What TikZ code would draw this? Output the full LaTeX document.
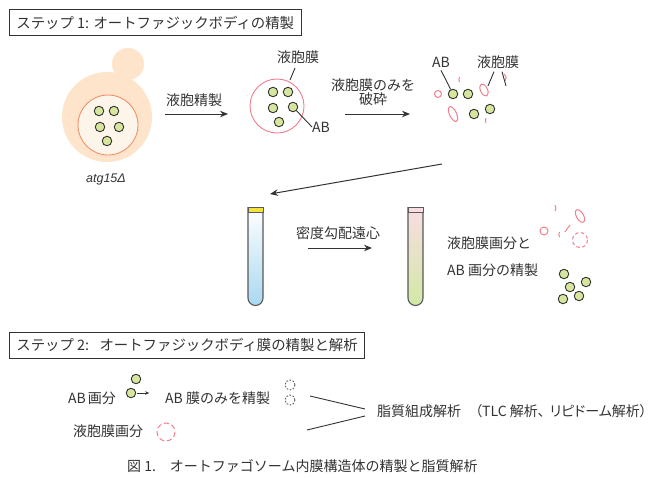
\documentclass[tikz,border=0pt]{standalone}
\usepackage{fontspec}
\setmainfont{Noto Sans CJK JP}
\newfontfamily\paltfont[RawFeature=+palt]{Noto Sans CJK JP}
\newfontfamily\latinfont{Liberation Sans}
\usetikzlibrary{arrows.meta,shapes.geometric}

\definecolor{ink}{HTML}{333333}
\definecolor{cellfill}{HTML}{FDE4CB}
\definecolor{vacfill}{HTML}{FEF5EA}
\definecolor{vacline}{HTML}{F0906C}
\definecolor{abfill}{HTML}{D6E69C}
\definecolor{pinkline}{HTML}{F27F90}
\definecolor{capyellow}{HTML}{F2E33C}
\definecolor{cappink}{HTML}{FADCE3}
\definecolor{tubeblue}{HTML}{A9D8F0}
\definecolor{tubepink}{HTML}{F9DDE4}
\definecolor{tubegreen}{HTML}{D2E8A6}

\tikzset{
  ab/.style={circle, draw=ink, fill=abfill, line width=0.9pt, minimum size=9.5pt, inner sep=0pt},
  lbl/.style={font=\fontsize{14}{14.5}\selectfont, text=ink, inner sep=0pt},
  small/.style={font=\fontsize{14}{16}\selectfont, text=ink, inner sep=0pt},
  titlebox/.style={draw=ink, line width=0.8pt, font=\fontsize{14.4}{17}\selectfont, text=ink,
    inner xsep=7pt, minimum height=26pt, anchor=west},
  arr/.style={-{Stealth[length=8pt,width=6.5pt]}, draw=ink, line width=1pt},
  leader/.style={draw=ink, line width=0.9pt},
  frag/.style={draw=pinkline, line width=1pt},
  tube/.style={draw=black!65, line width=1.1pt},
}

\begin{document}
\begin{tikzpicture}[x=1pt,y=-1pt]
\useasboundingbox[fill=white] (0,0) rectangle (658,477);

% ---------- step 1 ----------
\node[titlebox] (step1) at (9,22.5) {ステップ 1: オートファジックボディの精製};

% yeast cell with bud and vacuole
\fill[cellfill] (128,64) circle (16);
\fill[cellfill] (107,117) circle (45);
\filldraw[fill=vacfill, draw=vacline, line width=0.9pt] (108,125) circle (30);
\node[ab] (c1) at (99,111) {};
\node[ab] (c2) at (114,111) {};
\node[ab] (c3) at (100,127) {};
\node[ab] (c4) at (119,127) {};
\node[ab] (c5) at (107,141) {};
\node[font=\latinfont\itshape\fontsize{12.5}{14}\selectfont, text=ink, inner sep=0pt] (strain) at (106,179) {atg15Δ};

% vacuole isolation
\coordinate (a1s) at (165,114);
\coordinate (a1e) at (228,114);
\draw[arr] (a1s) -- (a1e);
\node[lbl] (a1lbl) at (194,100) {液胞精製};

% isolated vacuole
\draw[draw=pinkline, line width=0.9pt, fill=white] (277,106) circle (27) coordinate (vac);
\node[ab] (v1) at (273,92) {};
\node[ab] (v2) at (288,92) {};
\node[ab] (v3) at (273,108) {};
\node[ab] (v4) at (293,107) {};
\node[ab] (v5) at (279,122) {};
\node[lbl] (vmem) at (298,57) {液胞膜};
\coordinate (vmemtip) at (290,80);
\draw[leader] (295,68) -- (vmemtip);
\node[lbl, anchor=west] (vab) at (312,127) {AB};
\draw[leader] (v4) -- (vab.west);

% disrupting the vacuolar membrane
\coordinate (a2s) at (345,114);
\coordinate (a2e) at (410,114);
\draw[arr] (a2s) -- (a2e);
\node[lbl, align=center] (a2lbl) at (373,92) {液胞膜のみを\\破砕};

% released bodies and membrane fragments
\node[ab] (d1) at (453,94) {};
\node[ab] (d2) at (468,94) {};
\node[ab] (d3) at (474,114) {};
\node[ab] (d4) at (490,109) {};
\draw[frag] (438,94) circle (3.5);
\draw[frag] (459.5,77) arc (210:150:5);
\draw[frag, rotate around={25:(484,90)}] (484,90) ellipse (3.5 and 6.5);
\draw[frag] (505,81) arc (40:-50:5);
\draw[frag, rotate around={25:(453,114)}] (453,114) ellipse (3.5 and 8);
\draw[frag] (486,123) arc (150:210:5);
\node[lbl] (dab) at (441,62) {AB};
\node[lbl] (dmem) at (498,62) {液胞膜};
\draw[leader] (dab.south) ++(0,3) -- (d1);
\draw[leader] (dmem.south) ++(-4,3) -- (488,86);
\draw[leader] (dmem.south) ++(4,3) -- (506,86);

% return arrow to the gradient
\coordinate (a3s) at (442,164);
\coordinate (a3e) at (270,194);
\draw[arr] (a3s) -- (a3e);

% tube before centrifugation
\coordinate (t1) at (248,207);
\shade[top color=white, bottom color=tubeblue]
  (248,207) -- (248,298) arc (180:0:7.5) -- (263,207) -- cycle;
\draw[tube] (248,207) -- (248,298) arc (180:0:7.5) -- (263,207);
\filldraw[fill=capyellow, draw=black!65, line width=0.8pt] (248,207) rectangle (263,212);

% centrifugation
\coordinate (a4s) at (308,248);
\coordinate (a4e) at (372,248);
\draw[arr] (a4s) -- (a4e);
\node[lbl] (a4lbl) at (338,233) {密度勾配遠心};

% tube after centrifugation
\coordinate (t2) at (408,207);
\shade[top color=tubepink, bottom color=tubegreen]
  (408,207) -- (408,298) arc (180:0:7.5) -- (423,207) -- cycle;
\draw[tube] (408,207) -- (408,298) arc (180:0:7.5) -- (423,207);
\filldraw[fill=cappink, draw=black!65, line width=0.8pt] (408,207) rectangle (423,212);

\node[lbl, anchor=west] (frac1) at (447,243) {液胞膜画分と};
\node[lbl, anchor=west] (frac2) at (447,270) {AB 画分の精製};

% purified membrane fragments
\draw[frag] (544,231) circle (4);
\draw[frag] (555,211) arc (35:-35:5);
\draw[frag, rotate around={30:(580,216)}] (580,216) ellipse (3.5 and 7);
\draw[frag] (570,225) -- (565,232);
\draw[frag] (559.5,232) arc (210:150:5);
\draw[frag, dash pattern=on 3.5pt off 2.5pt] (580,240) circle (7.5);
% purified bodies
\node[ab] (p1) at (564,274) {};
\node[ab] (p2) at (586,282) {};
\node[ab] (p3) at (570,287) {};
\node[ab] (p4) at (579,296) {};
\node[ab] (p5) at (563,299) {};

% ---------- step 2 ----------
\node[titlebox] (step2) at (9,345) {ステップ 2:\hspace{6pt} オートファジックボディ膜の精製と解析};

\node[small, anchor=west] (abfr) at (68,398) {AB\hspace{2pt}画分};
\node[ab] (s1) at (136,379) {};
\node[ab] (s2) at (131,393) {};
\node[small, anchor=west] (abmem) at (165,398) {AB 膜のみを精製};
\draw[-{Stealth[length=4pt,width=3.5pt]}, draw=ink, line width=0.8pt] (s2.east) ++(1,0) -- ++(12,0);
\draw[draw=ink!80, line width=0.9pt, dash pattern=on 1.6pt off 1.6pt] (290,385) circle (5);
\draw[draw=ink!80, line width=0.9pt, dash pattern=on 1.6pt off 1.6pt] (290,400) circle (5);

\node[small, anchor=west] (vacfr) at (73,431) {液胞膜画分};
\draw[frag, dash pattern=on 5pt off 3pt] (166,432) circle (9);

\node[small, anchor=west, font=\paltfont\fontsize{14}{16}\selectfont] (lipid) at (377,411) {脂質組成解析\hspace{14pt}（TLC 解析、\hspace{5pt}リピドーム解析）};
\coordinate (m1) at (310,396);
\coordinate (m2) at (307,430);
\draw[leader] (m1) -- (365,409);
\draw[leader] (m2) -- (365,416);

% caption
\node[small, anchor=west] (caption) at (127,466) {図 1.　オートファゴソーム内膜構造体の精製と脂質解析};
\end{tikzpicture}
\end{document}
